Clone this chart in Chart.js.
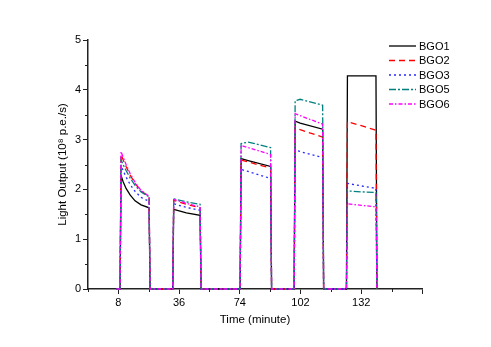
<!DOCTYPE html>
<html>
<head>
<meta charset="utf-8">
<script src="https://cdn.jsdelivr.net/npm/chart.js@4.4.0/dist/chart.umd.min.js"></script>
<style>
  html, body { margin: 0; padding: 0; background: #fff; }
  canvas { display: block; }
</style>
</head>
<body>
<canvas id="chart" width="491" height="347"></canvas>
<script>
const timeLabels = ["8", "36", "74", "102", "132"];

// position along the time axis in tick steps (0 = "8", 4 = "132")
const timePos = [
  -0.03,
  0.028, 0.044, 0.077, 0.127, 0.193, 0.275, 0.374, 0.506, 0.522,
  0.896, 0.911, 1.12, 1.346, 1.362,
  2.005, 2.021, 2.137, 2.507, 2.523,
  2.895, 2.911, 2.994, 3.364, 3.38,
  3.756, 3.772, 4.0, 4.242, 4.258
];

const bgo1 = [0,
  0, 2.28, 2.16, 2.02, 1.89, 1.77, 1.69, 1.63, 0,
  0, 1.60, 1.53, 1.48, 0,
  0, 2.62, 2.58, 2.46, 0,
  0, 3.37, 3.33, 3.21, 0,
  0, 4.28, 4.28, 4.28, 0];
const bgo2 = [0,
  0, 2.70, 2.60, 2.46, 2.29, 2.12, 1.97, 1.85, 0,
  0, 1.78, 1.70, 1.63, 0,
  0, 2.59, 2.55, 2.43, 0,
  0, 3.24, 3.20, 3.05, 0,
  0, 3.36, 3.28, 3.19, 0];
const bgo3 = [0,
  0, 2.48, 2.38, 2.25, 2.10, 1.96, 1.84, 1.76, 0,
  0, 1.71, 1.64, 1.58, 0,
  0, 2.40, 2.36, 2.22, 0,
  0, 2.79, 2.76, 2.64, 0,
  0, 2.12, 2.07, 2.02, 0];
const bgo5 = [0,
  0, 2.60, 2.50, 2.38, 2.23, 2.08, 1.95, 1.85, 0,
  0, 1.81, 1.75, 1.70, 0,
  0, 2.92, 2.95, 2.84, 0,
  0, 3.78, 3.81, 3.69, 0,
  0, 1.97, 1.95, 1.94, 0];
const bgo6 = [0,
  0, 2.76, 2.65, 2.50, 2.32, 2.14, 1.98, 1.86, 0,
  0, 1.80, 1.72, 1.65, 0,
  0, 2.88, 2.84, 2.70, 0,
  0, 3.52, 3.48, 3.31, 0,
  0, 1.71, 1.68, 1.65, 0];

const seriesNames = ["BGO1", "BGO2", "BGO3", "BGO5", "BGO6"];
const seriesValues = [bgo1, bgo2, bgo3, bgo5, bgo6];
const seriesColors = ["#000000", "#ff0000", "#2a2aff", "#008080", "#ff00ff"];
const seriesDash = [[], [6, 4], [2, 3], [7, 2, 2, 2], [4, 2, 1.5, 2]];
const drawOrder = [4, 3, 2, 1, 0]; // lower order ends up on top

const FONT = '"Liberation Sans", Arial, sans-serif';
const AXIS = "#222";

const minorTicks = {
  id: "minorTicks",
  beforeDatasetsDraw(chart) {
    const { ctx, scales: { x, y } } = chart;
    ctx.save();
    ctx.strokeStyle = AXIS;
    ctx.lineWidth = 1;
    ctx.beginPath();
    for (let v = -0.5; v < 5; v += 1) {
      const px = Math.round(x.getPixelForValue(v)) + 0.5;
      ctx.moveTo(px, y.bottom);
      ctx.lineTo(px, y.bottom + 3);
    }
    for (let v = 0.5; v < 5; v += 1) {
      const py = Math.round(y.getPixelForValue(v)) + 0.5;
      ctx.moveTo(x.left, py);
      ctx.lineTo(x.left - 3, py);
    }
    ctx.stroke();
    ctx.restore();
  }
};

const insideLegend = {
  id: "insideLegend",
  afterDraw(chart) {
    const ctx = chart.ctx;
    const x0 = chart.chartArea.right - 33;
    ctx.save();
    ctx.font = "11px " + FONT;
    ctx.textBaseline = "middle";
    seriesNames.forEach((name, i) => {
      const y = 46 + i * 14.5;
      ctx.strokeStyle = seriesColors[i];
      ctx.lineWidth = 1.3;
      ctx.setLineDash(seriesDash[i]);
      ctx.beginPath();
      ctx.moveTo(x0, y);
      ctx.lineTo(x0 + 27, y);
      ctx.stroke();
      ctx.setLineDash([]);
      ctx.fillStyle = "#000";
      ctx.fillText(name, x0 + 30, y + 0.5);
    });
    ctx.restore();
  }
};

new Chart(document.getElementById("chart"), {
  type: "line",
  data: {
    datasets: seriesNames.map((name, i) => ({
      label: name,
      data: timePos.map((t, j) => ({ x: t, y: seriesValues[i][j] })),
      borderColor: seriesColors[i],
      borderDash: seriesDash[i],
      borderWidth: 1.3,
      pointRadius: 0,
      tension: 0,
      fill: false,
      clip: false,
      order: drawOrder[i]
    }))
  },
  options: {
    responsive: false,
    animation: false,
    layout: { padding: { left: 0, right: 69, top: 40, bottom: 0 } },
    plugins: {
      legend: { display: false },
      tooltip: { enabled: false }
    },
    scales: {
      x: {
        type: "linear",
        min: -0.5,
        max: 5,
        afterBuildTicks: (s) => { s.ticks = [0, 1, 2, 3, 4, 5].map((v) => ({ value: v })); },
        afterFit: (s) => { s.height = 58; },
        grid: { drawOnChartArea: false, tickLength: 5, tickColor: AXIS, tickWidth: 1 },
        border: { color: AXIS, width: 1.5 },
        ticks: {
          autoSkip: false,
          maxRotation: 0,
          padding: 2,
          color: "#000",
          font: { family: FONT, size: 11 },
          callback: (v) => timeLabels[v] || ""
        },
        title: {
          display: true,
          text: "Time (minute)",
          color: "#000",
          font: { family: FONT, size: 11.5 },
          padding: { top: 0, bottom: 20 }
        }
      },
      y: {
        min: 0,
        max: 5,
        afterFit: (s) => { s.width = 88; },
        grid: { drawOnChartArea: false, tickLength: 5, tickColor: AXIS, tickWidth: 1 },
        border: { color: AXIS, width: 1.5 },
        ticks: {
          stepSize: 1,
          padding: 2,
          color: "#000",
          font: { family: FONT, size: 11 }
        },
        title: {
          display: true,
          text: "Light Output (10\u2078 p.e./s)",
          color: "#000",
          font: { family: FONT, size: 11.5 },
          padding: { top: 56, bottom: 0 }
        }
      }
    }
  },
  plugins: [minorTicks, insideLegend]
});
</script>
</body>
</html>
